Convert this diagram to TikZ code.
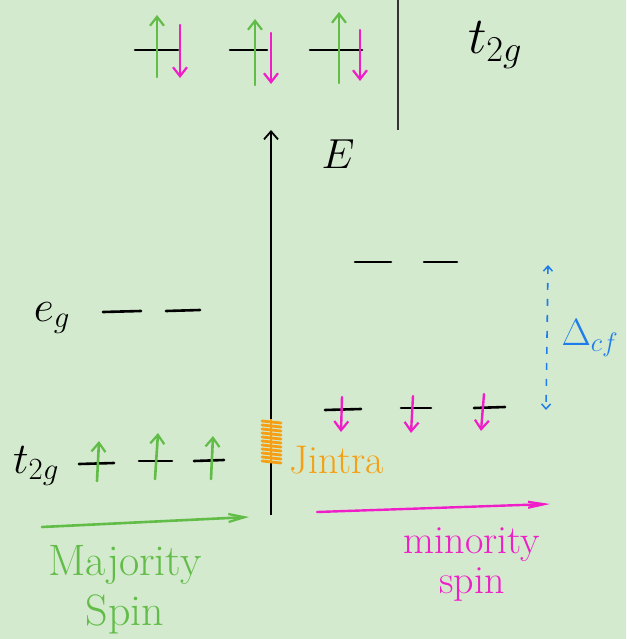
\RequirePackage{fix-cm}
\documentclass[tikz,border=0pt]{standalone}
\usepackage{fontspec}
\usetikzlibrary{arrows.meta}
\definecolor{bg}{RGB}{212,234,206}
\definecolor{upg}{RGB}{98,188,72}
\definecolor{dnp}{RGB}{240,30,200}
\definecolor{jor}{RGB}{245,160,20}
\definecolor{dblue}{RGB}{30,125,235}
\tikzset{
  lvl/.style={line width=2.6pt, line cap=round, black},
  upspin/.style={upg, line width=2.6pt, line cap=round, -{Straight Barb[length=9pt,width=14pt,line width=2.2pt]}},
  dnspin/.style={dnp, line width=2.4pt, line cap=round, -{Straight Barb[length=9pt,width=14pt,line width=2.2pt]}},
  lab/.style={inner sep=0pt, anchor=center},
}
\begin{document}
\begin{tikzpicture}[x=1pt,y=-1pt]
\fill[bg] (0,0) rectangle (626,639);
\useasboundingbox (0,0) rectangle (626,639);
% top t2g (filled)
\foreach \i/\a/\b in {1/135/178, 2/230/267, 3/310/362}{
  \coordinate (tl\i) at (\a,50); \coordinate (tr\i) at (\b,50);
  \draw[lvl] (tl\i) -- (tr\i);
}
\coordinate (tu1a) at (157,77); \coordinate (tu1b) at (157,15);
\coordinate (tu2a) at (255,85); \coordinate (tu2b) at (255,19);
\coordinate (tu3a) at (339,83); \coordinate (tu3b) at (339,12);
\coordinate (td1a) at (180,25); \coordinate (td1b) at (180,78);
\coordinate (td2a) at (271,33); \coordinate (td2b) at (271,84);
\coordinate (td3a) at (360,30); \coordinate (td3b) at (360,81);
\foreach \i in {1,2,3}{
  \draw[upspin] (tu\i a) -- (tu\i b);
  \draw[dnspin] (td\i a) -- (td\i b);
}
\coordinate (sepT) at (398,0); \coordinate (sepB) at (398,130);
\draw[line width=1.4pt, black!80] (sepT) -- (sepB);
\node[lab, font=\fontsize{52}{52}\selectfont] (t2gtop) at (495,45) {$t_{2g}$};
% energy axis
\coordinate (axB) at (271,515); \coordinate (axT) at (271,130);
\draw[line width=2pt, -{Straight Barb[length=8pt,width=14pt,line width=1.8pt]}] (axB) -- (axT);
\node[lab, font=\fontsize{42}{42}\selectfont] (E) at (338,154) {$E$};
% minority eg
\coordinate (me1a) at (355,262); \coordinate (me1b) at (391,262);
\coordinate (me2a) at (424,262); \coordinate (me2b) at (457,262);
\draw[lvl] (me1a) -- (me1b); \draw[lvl] (me2a) -- (me2b);
% majority eg
\node[lab, font=\fontsize{44}{44}\selectfont] (eg) at (52,318) {$e_g$};
\coordinate (Me1a) at (103,312); \coordinate (Me1b) at (141,311);
\coordinate (Me2a) at (166,311); \coordinate (Me2b) at (200,310);
\draw[lvl] (Me1a) -- (Me1b); \draw[lvl] (Me2a) -- (Me2b);
% minority t2g
\coordinate (mt1a) at (325,410); \coordinate (mt1b) at (361,409);
\coordinate (mt2a) at (401,408); \coordinate (mt2b) at (431,408);
\coordinate (mt3a) at (474,408); \coordinate (mt3b) at (505,407);
\foreach \i in {1,2,3}{\draw[lvl] (mt\i a) -- (mt\i b);}
\coordinate (md1a) at (342,397); \coordinate (md1b) at (341,432);
\coordinate (md2a) at (413,396); \coordinate (md2b) at (411,433);
\coordinate (md3a) at (484,394); \coordinate (md3b) at (481,431);
\foreach \i in {1,2,3}{\draw[dnspin] (md\i a) -- (md\i b);}
% crystal field splitting
\coordinate (dcT) at (548,265); \coordinate (dcB) at (546,410);
\draw[dblue, line width=1.6pt, dash pattern=on 7pt off 9pt, {Straight Barb[length=5pt,width=9pt,line width=1.5pt]}-{Straight Barb[length=5pt,width=9pt,line width=1.5pt]}] (dcT) -- (dcB);
\node[lab, dblue, font=\fontsize{38}{38}\selectfont] (dcf) at (590,338) {$\Delta_{cf}$};
% majority t2g
\node[lab, font=\fontsize{44}{44}\selectfont] (t2gl) at (36,466) {$t_{2g}$};
\coordinate (Mt1a) at (79,464); \coordinate (Mt1b) at (114,463);
\coordinate (Mt2a) at (139,461); \coordinate (Mt2b) at (172,461);
\coordinate (Mt3a) at (194,461); \coordinate (Mt3b) at (224,460);
\foreach \i in {1,2,3}{\draw[lvl] (Mt\i a) -- (Mt\i b);}
\coordinate (Mu1a) at (97,481); \coordinate (Mu1b) at (99,441);
\coordinate (Mu2a) at (155,479); \coordinate (Mu2b) at (158,433);
\coordinate (Mu3a) at (211,479); \coordinate (Mu3b) at (213,436);
\foreach \i in {1,2,3}{\draw[upspin] (Mu\i a) -- (Mu\i b);}
% Jintra
\coordinate (jT) at (271,419); \coordinate (jB) at (271,463);
\draw[jor, line width=2.2pt] (jT) -- (jB);
\foreach \y in {421,425,...,461}{\draw[jor, line width=2.8pt, line cap=round] (262,\y) -- (281,\y+2);}
\node[lab, jor, anchor=west, font=\fontsize{40}{40}\selectfont] (J) at (289,460) {Jintra};
% spin arrows
\coordinate (gA) at (42,527); \coordinate (gB) at (249,517);
\draw[upg, line width=2.6pt, line cap=round, -{Straight Barb[length=16pt,width=8pt,line width=2.2pt]}] (gA) -- (gB);
\coordinate (pA) at (317,512); \coordinate (pB) at (550,504);
\draw[dnp, line width=2.4pt, line cap=round, -{Straight Barb[length=16pt,width=6pt,line width=2.2pt]}] (pA) -- (pB);
\node[lab, upg, align=center, font=\fontsize{44}{50}\selectfont] (maj) at (125,590) {Majority\\ Spin};
\node[lab, dnp, align=center, font=\fontsize{40}{40}\selectfont] (min) at (472,564) {minority\\ spin};
\end{tikzpicture}
\end{document}
